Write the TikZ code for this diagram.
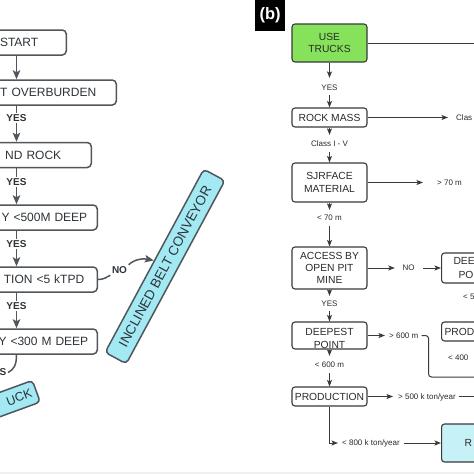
\documentclass[tikz,border=0pt]{standalone}
\usepackage{fontspec}
\setmainfont{Liberation Sans}
\usetikzlibrary{arrows.meta}
\definecolor{lgray}{HTML}{50575C}
\definecolor{ltext}{HTML}{2D3338}
\definecolor{cyanbox}{HTML}{A3E9F3}
\definecolor{greenbox}{HTML}{86E25A}
\definecolor{rlinec}{HTML}{3A3A3A}
\definecolor{rtextc}{HTML}{2A2A2A}
\definecolor{rbcyan}{HTML}{C6F1F7}
\begin{document}
\begin{tikzpicture}[x=1pt,y=-1pt,
  lbox/.style={draw=lgray, line width=1.5pt, rounded corners=4pt, fill=white, text=ltext,
    font=\fontsize{12}{15}\selectfont, minimum height=25pt, inner ysep=2pt, align=right, anchor=east},
  larr/.style={draw=lgray, line width=1.5pt, -{Stealth[length=9pt,width=7.5pt,inset=2pt]}},
  lline/.style={draw=lgray, line width=1.5pt},
  lyes/.style={font=\bfseries\fontsize{10}{12}\selectfont, text=ltext, inner sep=1.5pt},
  cbox/.style={draw=lgray, line width=1.5pt, rounded corners=4pt, fill=cyanbox, text=ltext},
  rbox/.style={draw=rlinec, line width=1.1pt, rounded corners=3pt, fill=white, text=rtextc,
    font=\fontsize{10.3}{12.5}\selectfont, align=center, minimum width=75pt, inner sep=1pt},
  rlabtext/.style={text=rtextc, font=\fontsize{10.3}{13}\selectfont, align=center, yshift=-3pt, inner sep=0pt},
  rarr/.style={draw=rlinec, line width=1pt, -{Stealth[length=6.5pt,width=5pt,inset=1.5pt]}},
  rseg/.style={draw=rlinec, line width=1pt},
  vlab/.style={font=\fontsize{8}{9.6}\selectfont, text=rtextc, inner sep=0pt, text height=5.8pt, text depth=0pt}
]
\useasboundingbox (0,0) rectangle (474,474);
\fill[white] (0,0) rectangle (474,474);
\fill[black!6] (0,472) rectangle (474,474);

% ---------- left panel ----------
\coordinate (colx) at (16.5,0);
\node[lbox, inner xsep=28pt, text width=51pt] (st) at (67,42.5) {START};
\node[lbox, inner xsep=20pt, text width=117pt] (ob) at (117,92.5) {T OVERBURDEN};
\node[lbox, inner xsep=30pt, text width=72pt] (rk) at (92,155) {ND ROCK};
\node[lbox, inner xsep=10pt, text width=118pt] (d5) at (98,217.5) {Y <500M DEEP};
\node[lbox, inner xsep=13pt, text width=112pt] (kt) at (98,279.5) {TION <5 kTPD};
\node[lbox, inner xsep=9pt, text width=120pt] (d3) at (98,341.5) {Y <300 M DEEP};

\node[lyes] (y1) at (16.5,118) {YES};
\node[lyes] (y2) at (16.5,182) {YES};
\node[lyes] (y3) at (16.5,244) {YES};
\node[lyes] (y4) at (16.5,306) {YES};
\node[lyes] (ys) at (3,372.5) {S};
\node[lyes] (lno) at (119.5,270) {NO};

\node[cbox, rotate=61.7, minimum width=208pt, minimum height=24pt, inner sep=0pt,
  font=\fontsize{13.5}{16}\selectfont] (conv) at (165,266.5) {INCLINED BELT CONVEYOR};
\node[cbox, rotate=20, anchor=east, minimum height=23pt, inner ysep=0pt, inner xsep=5pt,
  text width=60pt, align=right, font=\fontsize{12.5}{15}\selectfont] (truck) at (37,391) {UCK};

\draw[larr] (st.south -| colx) -- (ob.north -| colx);
\draw[lline] (ob.south -| colx) -- (y1.north);
\draw[larr] (y1.south) -- (rk.north -| colx);
\draw[lline] (rk.south -| colx) -- (y2.north);
\draw[larr] (y2.south) -- (d5.north -| colx);
\draw[lline] (d5.south -| colx) -- (y3.north);
\draw[larr] (y3.south) -- (kt.north -| colx);
\draw[lline] (kt.south -| colx) -- (y4.north);
\draw[larr] (y4.south) -- (d3.north -| colx);
\draw[lline] (d3.south -| colx) .. controls +(0,10) and +(6,-3) .. (ys.east);
\draw[lline] (kt.east) .. controls +(6,0) and +(-4,2) .. (lno.south west);
\draw[larr] (lno.north east) .. controls +(6,-6) and +(-10,-2) .. (conv.north);

% ---------- right panel ----------
\node[fill=black, text=white, font=\bfseries\fontsize{16.5}{19}\selectfont, minimum width=30pt,
  minimum height=31pt, inner sep=0pt, anchor=north west] (blabel) at (255,0) {(b)};

\node[rbox, fill=greenbox, minimum height=38pt] (use) at (329.5,43) {USE\\TRUCKS};
\node[rbox, minimum height=19pt] (rock) at (329.5,117.5) {ROCK MASS};
\node[rbox, minimum height=39pt] (surf) at (329.5,182.5) {SJRFACE\\MATERIAL};
\node[rbox, minimum height=42pt, font=\fontsize{10.3}{12}\selectfont] (acc) at (329.5,268) {ACCESS BY\\OPEN PIT\\MINE};
\node[rbox, minimum height=27pt, label={[rlabtext]center:DEEPEST\\POINT}] (deep) at (329.5,335.5) {};
\node[rbox, minimum height=19pt] (prod) at (329.5,396.5) {PRODUCTION};

\node[rbox, anchor=west, minimum height=30pt, text width=51pt, align=left, inner xsep=12pt,
  font=\fontsize{10.3}{13.5}\selectfont] (dee) at (441,268) {DEE\\\hspace*{5pt}PO};
\node[rbox, anchor=west, minimum height=19pt, text width=69pt, align=left, inner xsep=3pt] (prd) at (441,331.5) {PROD};
\node[rbox, anchor=west, fill=rbcyan, minimum height=38pt, text width=29pt, align=left, inner xsep=23pt] (rr) at (441,443) {R};

\node[vlab] (yes1) at (329.5,88) {YES};
\node[vlab] (cls) at (329.5,144) {Class I - V};
\node[vlab] (lt70) at (329.5,218) {< 70 m};
\node[vlab] (yes2) at (329.5,304) {YES};
\node[vlab] (lt600) at (329.5,365) {< 600 m};
\node[vlab, anchor=west] (clas) at (456,117.5) {Clas};
\node[vlab, anchor=west] (gt70) at (437,182.5) {> 70 m};
\node[vlab] (no) at (408.5,268) {NO};
\node[vlab, anchor=west] (lt5) at (463,297) {< 5};
\node[vlab, anchor=west] (lt400) at (448,358) {< 400};
\node[vlab, anchor=west] (gt600) at (389,335.5) {> 600 m};
\node[vlab, anchor=west] (gt500) at (398,396.5) {> 500 k ton/year};
\node[vlab, anchor=west] (lt800) at (342,443) {< 800 k ton/year};

\coordinate (edge0) at (474,43);
\coordinate (edge1) at (474,377);
\coordinate (edge2) at (474,396.5);

\draw[rarr, shorten >=7pt] (use.south) -- (yes1.north);
\draw[rarr, shorten <=4pt] (yes1.south) -- (rock.north);
\draw[rarr, shorten >=6pt] (rock.south) -- (cls.north);
\draw[rarr, shorten <=5pt] (cls.south) -- (surf.north);
\draw[rarr, shorten >=5pt] (surf.south) -- (lt70.north);
\draw[rarr, shorten <=5pt] (lt70.south) -- (acc.north);
\draw[rarr, shorten >=5pt] (acc.south) -- (yes2.north);
\draw[rarr, shorten <=4pt] (yes2.south) -- (deep.north);
\draw[rarr, shorten >=6pt] (deep.south) -- (lt600.north);
\draw[rarr, shorten <=5pt] (lt600.south) -- (prod.north);

\draw[rseg] (use.east) -- (edge0);
\draw[rarr, shorten >=8pt] (rock.east) -- (clas.west);
\draw[rarr, shorten >=14pt] (surf.east) -- (gt70.west);
\draw[rarr, shorten >=7.5pt] (acc.east) -- (no.west);
\draw[rarr, shorten <=8.5pt] (no.east) -- (dee.west);
\draw[rarr, shorten >=4pt] (deep.east) -- (gt600.west);
\draw[rseg, rounded corners=3pt, shorten <=3pt] (gt600.east) -- ++(10,0) -- ++(0,41.5) -- (edge1);
\draw[rarr, shorten >=5pt] (prod.east) -- (gt500.west);
\draw[rseg, shorten <=3pt] (gt500.east) -- (edge2);
\draw[rarr, shorten >=4pt] (prod.south) |- (lt800.west);
\draw[rarr, shorten <=4pt] (lt800.east) -- (rr.west);
\end{tikzpicture}
\end{document}
